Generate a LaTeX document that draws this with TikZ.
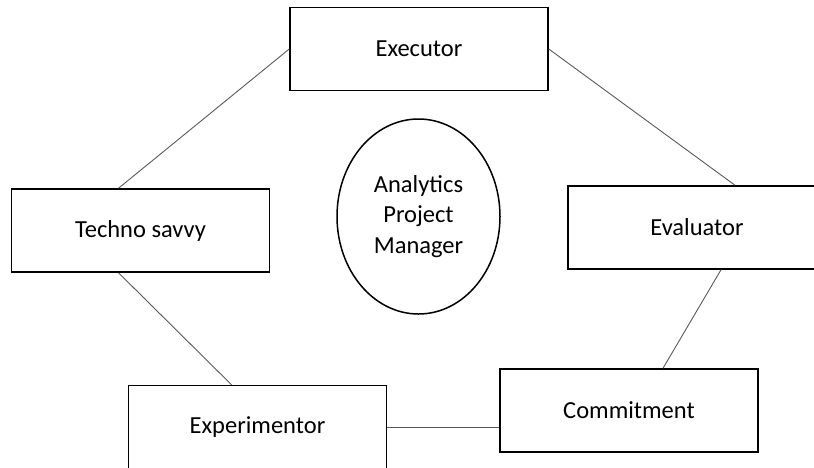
\documentclass[tikz,border=0pt]{standalone}
\usepackage{fontspec}
\setmainfont{Carlito}
\usetikzlibrary{shapes.geometric, positioning}

\begin{document}
\begin{tikzpicture}[x=1pt, y=-1pt, semithick]
    \tikzstyle{box}=[shape=rectangle, fill=none, draw=black, text=black, line width=1.5pt, minimum width=258pt, minimum height=83pt]
    \tikzstyle{hub}=[shape=ellipse, fill=none, draw=black, text=black, line width=1.5pt, minimum width=163pt, minimum height=195pt, inner sep=0pt, align=center]
    \tikzstyle{link}=[draw=black!65, line width=0.9pt]
    \tikzstyle{every node}=[font=\fontsize{24.5}{30.5}\selectfont]

    \useasboundingbox (0,0) rectangle (814,467);
    \clip (0,0) rectangle (814,467);

    \node[box]  (exec)   at (419,49)      {Executor};
    \node[box]  (techno) at (140.5,230.5) {Techno savvy};
    \node[box]  (eval)   at (697,227.5)   {Evaluator};
    \node[box]  (commit) at (629,410.5)   {Commitment};
    \node[box]  (exper)  at (257.5,427)   {Experimentor};
    \node[hub]  (apm)    at (418.5,216.5) {Analytics\\Project\\Manager};

    \path[link]
    (exec.west)                    edge ([xshift=-22pt]techno.north)
    (exec.east)                    edge ([xshift=38pt]eval.north)
    ([xshift=-22pt]techno.south)   edge ([xshift=-26pt]exper.north)
    ([xshift=24pt]eval.south)      edge ([xshift=34pt]commit.north)
    (exper.east)                   edge (exper.east -| commit.west)
            ;

\end{tikzpicture}
\end{document}
